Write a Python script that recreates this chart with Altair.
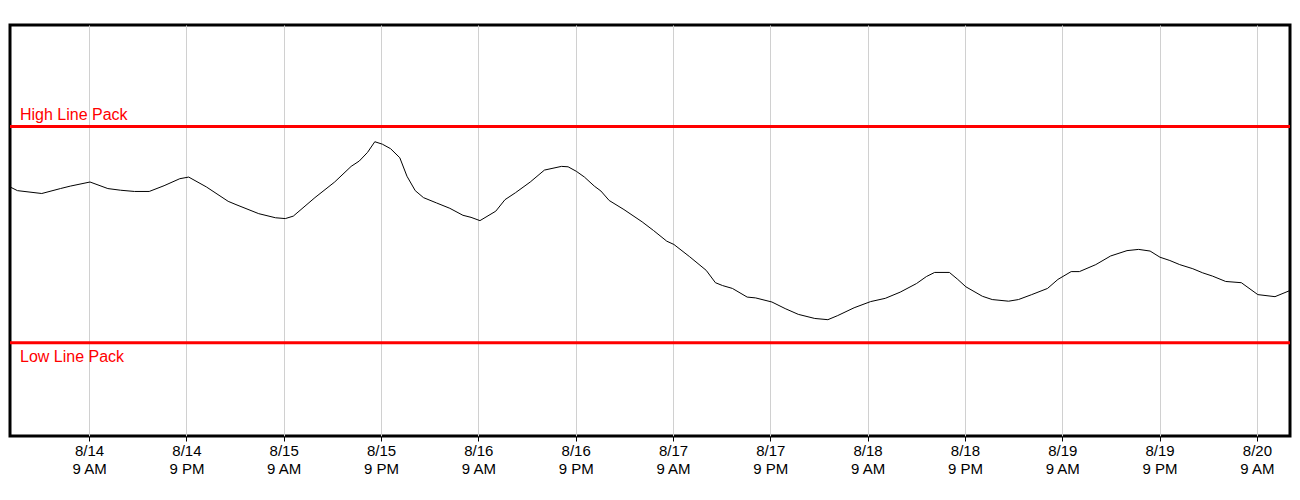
import altair as alt
import pandas as pd

# Timestamps (UTC) and line pack readings (relative units, 0-100 scale)
times = [
    "08-13 23:15", "08-14 00:10", "08-14 03:10", "08-14 05:28", "08-14 06:41", "08-14 09:07",
    "08-14 11:19", "08-14 12:53", "08-14 14:36", "08-14 16:25", "08-14 18:15", "08-14 20:11",
    "08-14 21:17", "08-14 23:28", "08-15 02:09", "08-15 03:07", "08-15 05:55", "08-15 07:59",
    "08-15 09:12", "08-15 10:11", "08-15 12:51", "08-15 15:17", "08-15 17:19", "08-15 18:19",
    "08-15 19:20", "08-15 20:14", "08-15 21:10", "08-15 22:11", "08-15 23:19", "08-16 00:12",
    "08-16 01:13", "08-16 02:14", "08-16 03:51", "08-16 05:29", "08-16 07:06", "08-16 08:06",
    "08-16 09:12", "08-16 11:09", "08-16 12:17", "08-16 13:35", "08-16 15:24", "08-16 17:09",
    "08-16 19:15", "08-16 20:04", "08-16 21:05", "08-16 22:05", "08-16 23:18", "08-17 00:07",
    "08-17 01:08", "08-17 02:57", "08-17 05:12", "08-17 06:36", "08-17 08:14", "08-17 09:07",
    "08-17 11:04", "08-17 13:06", "08-17 14:14", "08-17 15:07", "08-17 16:20", "08-17 18:09",
    "08-17 19:11", "08-17 21:12", "08-17 22:50", "08-18 00:27", "08-18 02:29", "08-18 04:06",
    "08-18 05:19", "08-18 07:20", "08-18 09:22", "08-18 11:11", "08-18 13:01", "08-18 15:02",
    "08-18 16:15", "08-18 17:16", "08-18 19:05", "08-18 20:07", "08-18 21:07", "08-18 23:09",
    "08-19 00:22", "08-19 02:23", "08-19 03:36", "08-19 05:14", "08-19 07:11", "08-19 08:28",
    "08-19 10:06", "08-19 11:07", "08-19 13:08", "08-19 14:58", "08-19 16:59", "08-19 18:25",
    "08-19 19:50", "08-19 21:03", "08-19 22:16", "08-19 23:29", "08-20 01:06", "08-20 02:19",
    "08-20 03:32", "08-20 05:09", "08-20 07:05", "08-20 09:07", "08-20 11:14", "08-20 13:05",
]
values = [
    60.6, 59.7, 59.0, 60.2, 60.8, 61.8,
    60.2, 59.8, 59.5, 59.5, 60.9, 62.6,
    63.0, 60.6, 57.1, 56.3, 54.1, 53.1,
    52.9, 53.5, 58.0, 61.8, 65.6, 66.9,
    69.0, 71.6, 71.0, 69.9, 67.7, 63.2,
    59.7, 58.0, 56.7, 55.4, 53.7, 53.2,
    52.4, 54.7, 57.5, 59.2, 61.8, 64.7,
    65.6, 65.5, 64.4, 63.0, 60.8, 59.6,
    57.3, 55.1, 52.1, 50.0, 47.4, 46.6,
    43.6, 40.3, 37.3, 36.6, 35.9, 33.8,
    33.6, 32.6, 31.0, 29.6, 28.6, 28.3,
    29.3, 31.2, 32.7, 33.5, 35.0, 37.1,
    38.8, 39.8, 39.8, 38.1, 36.3, 34.0,
    33.2, 32.8, 33.2, 34.4, 35.9, 38.1,
    40.0, 40.0, 41.7, 43.8, 45.1, 45.4,
    45.0, 43.5, 42.7, 41.7, 40.7, 39.7,
    38.9, 37.6, 37.3, 34.4, 33.9, 35.4,
]
year = 2023
high_line_pack = 75.3
low_line_pack = 22.7
limit_labels = ["High Line Pack", "Low Line Pack"]
domain_start = "08-13 23:15"
domain_end = "08-20 13:05"
tick_days = [14, 14, 15, 15, 16, 16, 17, 17, 18, 18, 19, 19, 20]
tick_hours = [9, 21, 9, 21, 9, 21, 9, 21, 9, 21, 9, 21, 9]


def iso(s):
    md, hm = s.split(" ")
    return f"{year}-{md}T{hm}:00Z"


df = pd.DataFrame({"time": [iso(t) for t in times], "value": values})
limits = pd.DataFrame({"value": [high_line_pack, low_line_pack], "label": limit_labels})

tick_values = [
    alt.DateTime(year=year, month=8, date=d, hours=h, utc=True)
    for d, h in zip(tick_days, tick_hours)
]

FONT = "Liberation Sans"

x_enc = alt.X(
    "time:T",
    scale=alt.Scale(type="utc", domain=[iso(domain_start), iso(domain_end)], nice=False),
    axis=alt.Axis(
        title=None,
        values=tick_values,
        labelExpr="[utcFormat(datum.value, '%-m/%-d'), utcFormat(datum.value, '%-I %p')]",
        grid=True,
        gridColor="#d0d0d0",
        gridWidth=1,
        domain=False,
        tickColor="black",
        tickSize=5,
        tickWidth=1,
        labelPadding=2,
        labelFont=FONT,
        labelFontSize=15,
        labelColor="black",
        labelLineHeight=18,
        labelBaseline="top",
        labelFlush=False,
        labelOverlap=False,
    ),
)
y_scale = alt.Scale(domain=[0, 100], nice=False, zero=False)

line = alt.Chart(df).mark_line(color="black", strokeWidth=1).encode(
    x=x_enc,
    y=alt.Y("value:Q", scale=y_scale, axis=None),
)

rules = alt.Chart(limits).mark_rule(color="#ff0000", strokeWidth=3).encode(
    y=alt.Y("value:Q", scale=y_scale, axis=None),
)

high_text = alt.Chart(limits.iloc[[0]]).mark_text(
    align="left", baseline="alphabetic", dx=0, dy=-7,
    font=FONT, fontSize=16, color="#ff0000",
).encode(
    x=alt.value(10),
    y=alt.Y("value:Q", scale=y_scale, axis=None),
    text="label:N",
)

low_text = alt.Chart(limits.iloc[[1]]).mark_text(
    align="left", baseline="alphabetic", dx=0, dy=19,
    font=FONT, fontSize=16, color="#ff0000",
).encode(
    x=alt.value(10),
    y=alt.Y("value:Q", scale=y_scale, axis=None),
    text="label:N",
)

chart = (
    alt.layer(line, rules, high_text, low_text)
    .properties(
        width=1280, height=411, background="white",
        padding={"top": 17, "left": 0, "right": 0, "bottom": 0},
    )
    .configure_view(stroke="black", strokeWidth=3)
)

chart.save("out.html", embed_options={"renderer": "svg", "actions": False})
